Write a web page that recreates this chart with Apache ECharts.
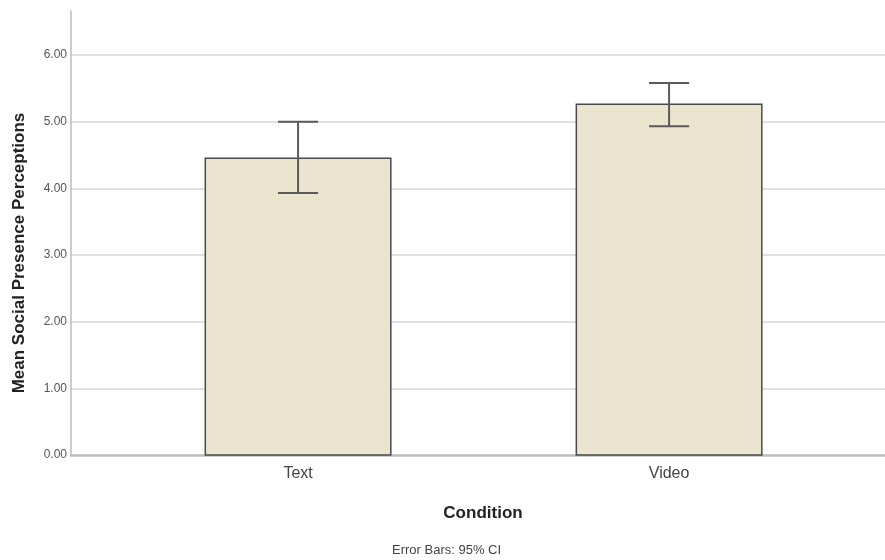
<!DOCTYPE html>
<html>
<head>
<meta charset="utf-8">
<script src="https://cdn.jsdelivr.net/npm/echarts@6/dist/echarts.min.js"></script>
<style>
  html, body { margin: 0; padding: 0; background: #fff; }
  #chart { width: 885px; height: 560px; }
</style>
</head>
<body>
<div id="chart"></div>
<script>
// Group names and their mean scores
const categories = ['Text', 'Video'];
const means = [4.45, 5.26];
// 95% confidence interval bounds
const ciLow = [3.93, 4.93];
const ciHigh = [5.00, 5.58];
// Y-axis tick values
const yTicks = [0, 1, 2, 3, 4, 5, 6];

const FONT = '"Liberation Sans", Arial, sans-serif';

const barData = categories.map((c, i) => [i, means[i]]);
const errData = categories.map((c, i) => [i, ciLow[i], ciHigh[i]]);

const chart = echarts.init(document.getElementById('chart'));

chart.setOption({
  backgroundColor: '#ffffff',
  animation: false,
  title: {
    text: 'Error Bars: 95% CI',
    left: 392,
    top: 544,
    padding: 0,
    textStyle: { fontFamily: FONT, fontSize: 13, fontWeight: 'normal', color: '#444' }
  },
  grid: { left: 71, right: 0, top: 11, bottom: 105, containLabel: false },
  xAxis: {
    type: 'value',
    min: -0.612,
    max: 1.582,
    name: 'Condition',
    nameLocation: 'middle',
    nameGap: 50,
    nameTextStyle: { fontFamily: FONT, fontSize: 17, fontWeight: 'bold', color: '#222', padding: [0, 0, 0, 10] },
    axisLine: { show: true, onZero: false, lineStyle: { color: '#bdbdbd', width: 2.5 } },
    axisTick: { show: false },
    splitLine: { show: false },
    axisLabel: {
      customValues: [0, 1],
      formatter: v => categories[Math.round(v)],
      margin: 11,
      fontFamily: FONT,
      fontSize: 16,
      color: '#444'
    }
  },
  yAxis: {
    type: 'value',
    min: 0,
    max: 6.66,
    interval: 1,
    name: 'Mean Social Presence Perceptions',
    nameLocation: 'middle',
    nameGap: 43,
    nameTextStyle: { fontFamily: FONT, fontSize: 17, fontWeight: 'bold', color: '#222', padding: [0, 40, 0, 0] },
    axisLine: { show: true, onZero: false, lineStyle: { color: '#bdbdbd', width: 1.5 } },
    axisTick: { show: false },
    splitLine: { show: true, showMinLine: false, showMaxLine: false, lineStyle: { color: '#d6d6d6', width: 1.5 } },
    axisLabel: {
      customValues: yTicks,
      formatter: v => v.toFixed(2),
      margin: 4,
      fontFamily: FONT,
      fontSize: 12,
      color: '#555'
    }
  },
  series: [
    {
      type: 'custom',
      name: 'Mean',
      data: barData,
      encode: { x: 0, y: 1 },
      z: 2,
      renderItem: function (params, api) {
        const x = api.value(0);
        const v = api.value(1);
        const top = api.coord([x, v]);
        const base = api.coord([x, 0]);
        const w = api.size([0.5, 0])[0];
        return {
          type: 'rect',
          shape: { x: top[0] - w / 2, y: top[1], width: w, height: base[1] - top[1] },
          style: { fill: '#ebe4cf', stroke: '#4a4a4a', lineWidth: 1.5 }
        };
      }
    },
    {
      type: 'custom',
      name: '95% CI',
      data: errData,
      encode: { x: 0, y: [1, 2] },
      z: 3,
      renderItem: function (params, api) {
        const x = api.value(0);
        const lo = api.coord([x, api.value(1)]);
        const hi = api.coord([x, api.value(2)]);
        const cap = api.size([0.108, 0])[0] / 2;
        const style = { stroke: '#5a5a5a', lineWidth: 2 };
        return {
          type: 'group',
          children: [
            { type: 'line', shape: { x1: lo[0], y1: lo[1], x2: hi[0], y2: hi[1] }, style: style },
            { type: 'line', shape: { x1: hi[0] - cap, y1: hi[1], x2: hi[0] + cap, y2: hi[1] }, style: style },
            { type: 'line', shape: { x1: lo[0] - cap, y1: lo[1], x2: lo[0] + cap, y2: lo[1] }, style: style }
          ]
        };
      }
    }
  ]
});
</script>
</body>
</html>
